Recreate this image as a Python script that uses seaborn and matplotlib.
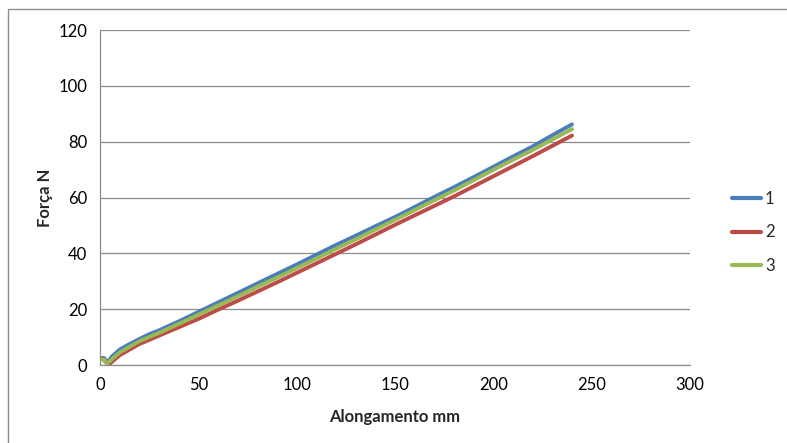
import matplotlib
matplotlib.use("Agg")
import matplotlib.pyplot as plt
import seaborn as sns
import pandas as pd
from matplotlib.patches import Rectangle

# Data
x_1 = [1, 2, 4, 6, 10, 15, 20, 25, 30, 40, 50, 60, 70, 80, 90, 100, 110, 120, 130,
       140, 150, 160, 170, 180, 190, 200, 210, 220, 230, 240]
y_1 = [2.5, 2.5, 1.0, 3.0, 5.5, 7.5, 9.3, 11.0, 12.4, 15.6, 19.0, 22.4, 25.8, 29.2,
       32.6, 36.0, 39.5, 43.0, 46.3, 49.7, 53.0, 56.6, 60.2, 63.7, 67.3, 71.0, 74.7,
       78.3, 82.3, 86.2]
x_2 = [1, 3, 5, 10, 15, 20, 25, 30, 40, 50, 60, 70, 80, 90, 100, 110, 120, 130, 140,
       150, 160, 170, 180, 190, 200, 210, 220, 230, 240]
y_2 = [2.5, 1.0, 0.5, 3.5, 5.5, 7.5, 9.0, 10.5, 13.5, 16.5, 19.8, 23.0, 26.3, 29.6,
       33.0, 36.4, 39.8, 43.2, 46.7, 50.2, 53.6, 57.0, 60.4, 64.0, 67.6, 71.2, 74.8,
       78.5, 82.2]
x_3 = [1, 2, 3.5, 6, 10, 15, 20, 25, 30, 40, 50, 60, 70, 80, 90, 100, 110, 120, 130,
       140, 150, 160, 170, 180, 190, 200, 210, 220, 230, 240]
y_3 = [2.0, 2.0, 0.5, 2.0, 4.5, 6.5, 8.5, 10.0, 11.5, 14.7, 18.0, 21.3, 24.6, 28.0,
       31.3, 34.7, 38.1, 41.6, 45.0, 48.5, 52.0, 55.5, 59.0, 62.5, 66.2, 69.9, 73.5,
       77.0, 80.8, 84.5]
series_names = ["1", "2", "3"]
x_ticks = [0, 50, 100, 150, 200, 250, 300]
y_ticks = [0, 20, 40, 60, 80, 100, 120]

frames = []
for name, xs, ys in zip(series_names, [x_1, x_2, x_3], [y_1, y_2, y_3]):
    frames.append(pd.DataFrame({"x": xs, "y": ys, "serie": name}))
df = pd.concat(frames, ignore_index=True)

sns.set_style("white")
plt.rcParams["font.family"] = ["Lato", "DejaVu Sans"]

fig = plt.figure(figsize=(7.87, 4.43), dpi=100)
ax = fig.add_axes([100 / 787, 78 / 443, 590 / 787, 335 / 443])

palette = {"1": "#4A7EBB", "2": "#BE4B48", "3": "#98B954"}
sns.lineplot(data=df, x="x", y="y", hue="serie", palette=palette, linewidth=2.8,
             sort=False, estimator=None, ax=ax)

ax.set_xlim(0, 300)
ax.set_ylim(0, 120)
ax.set_xticks(x_ticks)
ax.set_yticks(y_ticks)
ax.tick_params(axis="both", labelsize=12, length=5, width=0.8,
               direction="out", pad=4, labelcolor="#000000")
for t in ax.get_xticklines() + ax.get_yticklines():
    t.set_color("#8C8C8C")
ax.yaxis.grid(True, color="#8C8C8C", linewidth=0.9)
ax.xaxis.grid(False)
for s in ["top", "right"]:
    ax.spines[s].set_visible(False)
for s in ["left", "bottom"]:
    ax.spines[s].set_color("#8C8C8C")
    ax.spines[s].set_linewidth(0.9)

ax.set_xlabel("Alongamento mm", fontsize=12, fontweight="bold", labelpad=11)
ax.set_ylabel("Força N", fontsize=12, fontweight="bold", labelpad=4)

leg = ax.legend(loc="center left", bbox_to_anchor=(1.045, 0.396), frameon=False,
                fontsize=12, handlelength=1.75, handletextpad=0.25, labelspacing=1.05)
for line in leg.get_lines():
    line.set_linewidth(3)

fig.patches.append(Rectangle((8 / 787, -0.2), 1.0, (443 - 9) / 443 + 0.2,
                             transform=fig.transFigure, fill=False,
                             edgecolor="#8C8C8C", linewidth=1.0))

fig.savefig("out.png", dpi=100)
